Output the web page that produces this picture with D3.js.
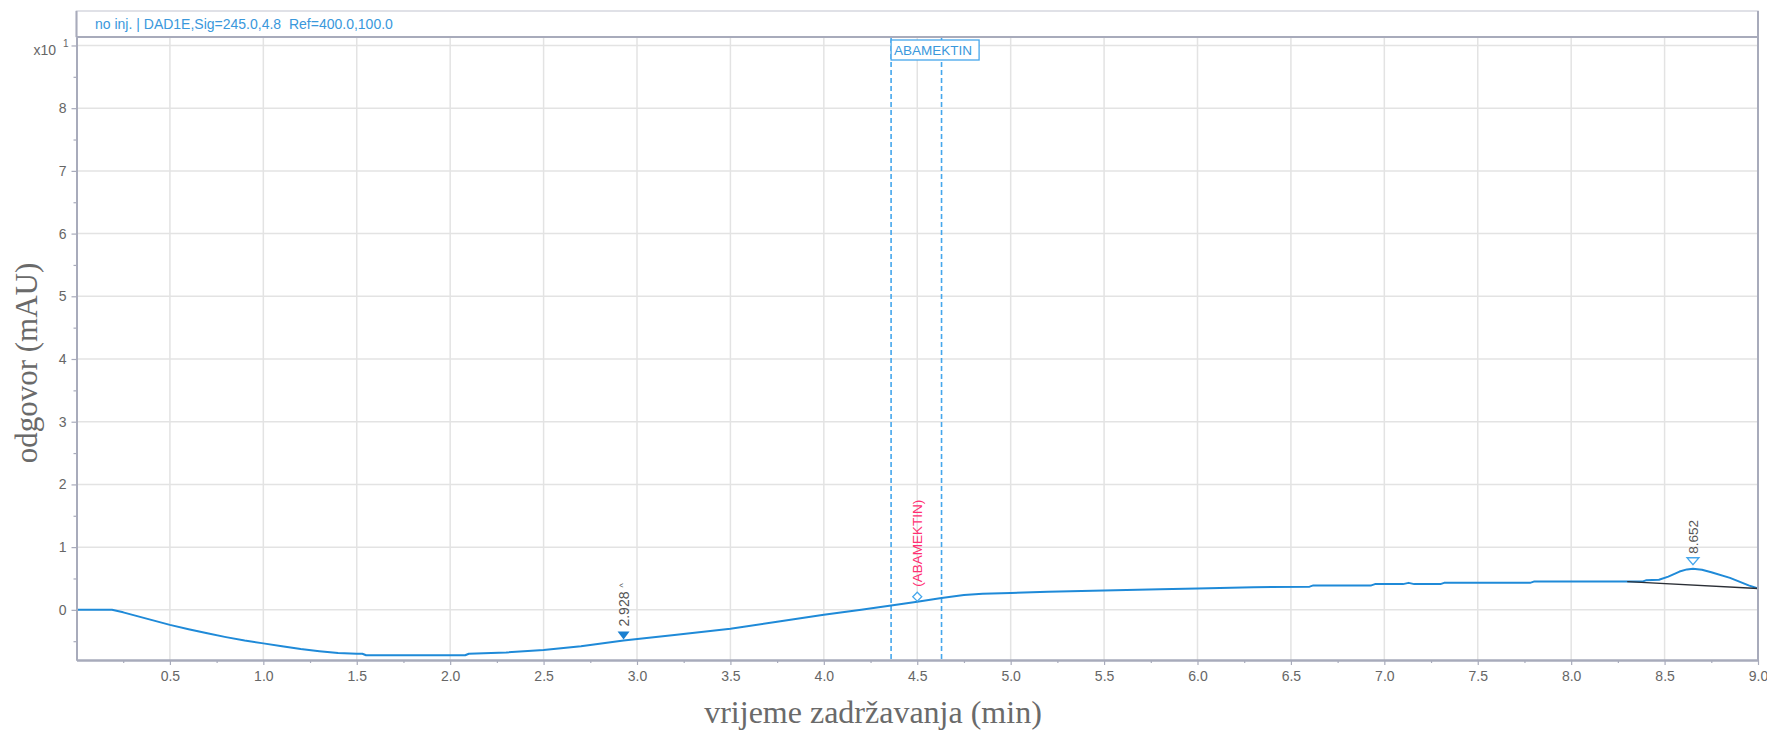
<!DOCTYPE html>
<html>
<head>
<meta charset="utf-8">
<script src="https://cdn.jsdelivr.net/npm/d3@7"></script>
<style>
  html, body { margin: 0; padding: 0; background: #fff; }
  svg { display: block; font-family: "Liberation Sans", Arial, sans-serif; }
</style>
</head>
<body>
<svg id="chart" width="1767" height="736"></svg>
<script>
// Retention time (min) of the DAD1E trace
const times = [0, 0.19, 0.25, 0.3, 0.4, 0.5, 0.6, 0.7, 0.8, 0.9, 1.0, 1.1, 1.2, 1.3, 1.4, 1.5, 1.53, 1.55, 2.08, 2.1, 2.3, 2.5, 2.7, 2.928, 3.2, 3.5, 3.75, 4.0, 4.2, 4.36, 4.5, 4.63, 4.75, 4.85, 5.0, 5.2, 5.5, 5.8, 6.0, 6.3, 6.6, 6.62, 6.93, 6.95, 7.1, 7.13, 7.16, 7.3, 7.32, 7.78, 7.8, 8.38, 8.4, 8.47, 8.52, 8.58, 8.62, 8.652, 8.7, 8.75, 8.85, 8.95, 9.0];
// Detector response in units of 10 mAU
const response = [0, 0, -0.04, -0.08, -0.16, -0.24, -0.31, -0.375, -0.435, -0.49, -0.535, -0.58, -0.625, -0.66, -0.69, -0.70, -0.70, -0.725, -0.725, -0.70, -0.68, -0.64, -0.58, -0.49, -0.40, -0.30, -0.19, -0.08, 0.0, 0.07, 0.13, 0.19, 0.235, 0.255, 0.27, 0.29, 0.31, 0.33, 0.34, 0.36, 0.37, 0.39, 0.39, 0.41, 0.41, 0.43, 0.41, 0.41, 0.43, 0.43, 0.45, 0.45, 0.47, 0.48, 0.53, 0.61, 0.645, 0.655, 0.64, 0.60, 0.51, 0.39, 0.34];

// Integration baseline under the last peak
const baselineTimes = [8.30, 9.0];
const baselineValues = [0.45, 0.34];

// Detected peaks
const peakTimes = [2.928, 8.652];
const peakValues = [-0.49, 0.655];
const peakLabels = ["2.928", "8.652"];

// Expected compound window
const compoundName = "ABAMEKTIN";
const compoundWindow = [4.36, 4.63];
const compoundTime = 4.5;
const compoundValue = 0.13;

// Axis ticks
const xMajorTicks = d3.range(1, 19).map(i => i * 0.5);
const xMinorTicks = d3.range(0, 18).map(i => i * 0.5 + 0.25);
const yMajorTicks = d3.range(0, 10);
const yMinorTicks = d3.range(-1, 9).map(i => i + 0.5);

const headerText = "no inj. | DAD1E,Sig=245.0,4.8\u00a0\u00a0Ref=400.0,100.0";
const xTitle = "vrijeme zadržavanja (min)";
const yTitle = "odgovor (mAU)";

const svg = d3.select("#chart");
const plot = { left: 76.5, right: 1758, top: 37, bottom: 660 };

const x = d3.scaleLinear().domain([0, 9]).range([plot.left, plot.right]);
const y = d3.scaleLinear().domain([-0.8, 9.135]).range([plot.bottom, plot.top]);

const sans = "'Liberation Sans', Arial, sans-serif";
const serif = "'Liberation Serif', 'Times New Roman', serif";
const axisColor = "#a8abbb";
const gridColor = "#e3e3e3";
const labelColor = "#666";
const traceColor = "#1f8ad8";
const markColor = "#45a7ec";

// Header strip
svg.append("rect")
  .attr("x", plot.left).attr("y", 11)
  .attr("width", plot.right - plot.left).attr("height", plot.top - 11)
  .attr("fill", "#fff").attr("stroke", "#d6d8e0").attr("stroke-width", 1.5);
svg.append("text")
  .attr("x", 95).attr("y", 29)
  .attr("fill", "#3a98dc").attr("font-size", 14)
  .text(headerText);

// Grid
const grid = svg.append("g");
grid.selectAll("line.h").data(yMajorTicks).join("line")
  .attr("x1", plot.left).attr("x2", plot.right)
  .attr("y1", d => y(d)).attr("y2", d => y(d))
  .attr("stroke", gridColor).attr("stroke-width", 1.5);
grid.selectAll("line.v").data(xMajorTicks.filter(d => d < 9)).join("line")
  .attr("x1", d => x(d)).attr("x2", d => x(d))
  .attr("y1", plot.top).attr("y2", plot.bottom)
  .attr("stroke", gridColor).attr("stroke-width", 1.5);

// Compound retention window
const win = svg.append("g");
win.selectAll("line").data(compoundWindow).join("line")
  .attr("x1", d => x(d)).attr("x2", d => x(d))
  .attr("y1", plot.top + 1).attr("y2", plot.bottom)
  .attr("stroke", markColor).attr("stroke-width", 1.6)
  .attr("stroke-dasharray", "5,3");
win.append("rect")
  .attr("x", x(compoundWindow[0])).attr("y", 40)
  .attr("width", 88).attr("height", 20)
  .attr("fill", "#fff").attr("stroke", markColor).attr("stroke-width", 1.3);
win.append("text")
  .attr("x", x(compoundWindow[0]) + 3).attr("y", 55)
  .attr("fill", "#3a98dc").attr("font-size", 13.5)
  .text(compoundName);

// Trace
const line = d3.line().x((d, i) => x(times[i])).y(d => y(d));
svg.append("path")
  .attr("d", line(response))
  .attr("fill", "none").attr("stroke", traceColor).attr("stroke-width", 2)
  .attr("stroke-linejoin", "round");

// Integration baseline
svg.append("path")
  .attr("d", d3.line().x((d, i) => x(baselineTimes[i])).y(d => y(d))(baselineValues))
  .attr("fill", "none").attr("stroke", "#2b2f36").attr("stroke-width", 1.3);

// Peak 1: filled marker
const p1x = x(peakTimes[0]), p1y = y(peakValues[0]);
svg.append("path")
  .attr("d", `M${p1x - 6},${p1y - 9}L${p1x + 6},${p1y - 9}L${p1x},${p1y - 1}Z`)
  .attr("fill", "#1a7fd0");
svg.append("text")
  .attr("transform", `translate(${p1x + 5},${p1y - 14}) rotate(-90)`)
  .attr("fill", "#555").attr("font-size", 14)
  .text(peakLabels[0])
  .append("tspan").attr("dx", 4).attr("dy", -3).attr("font-size", 9).text("^");

// Peak 2: hollow marker
const p2x = x(peakTimes[1]), p2y = y(peakValues[1]);
svg.append("path")
  .attr("d", `M${p2x - 6},${p2y - 11}L${p2x + 6},${p2y - 11}L${p2x},${p2y - 4}Z`)
  .attr("fill", "#fff").attr("stroke", markColor).attr("stroke-width", 1.3);
svg.append("text")
  .attr("transform", `translate(${p2x + 5},${p2y - 15}) rotate(-90)`)
  .attr("fill", "#555").attr("font-size", 13.5)
  .text(peakLabels[1]);

// Expected compound position
const cx = x(compoundTime), cy = y(compoundValue) - 5;
svg.append("path")
  .attr("d", `M${cx},${cy - 4.5}L${cx + 4.5},${cy}L${cx},${cy + 4.5}L${cx - 4.5},${cy}Z`)
  .attr("fill", "#fff").attr("stroke", markColor).attr("stroke-width", 1.3);
svg.append("text")
  .attr("transform", `translate(${cx + 4.5},${cy - 10}) rotate(-90)`)
  .attr("fill", "#ff2f72").attr("font-size", 13.5)
  .text(`(${compoundName})`);

// Axes
function styleAxis(g) {
  g.attr("font-family", sans).attr("font-size", 14);
  g.select(".domain").attr("stroke", axisColor).attr("stroke-width", 2);
  g.selectAll(".tick line").attr("stroke", axisColor).attr("stroke-width", 1.2);
  g.selectAll(".tick text").attr("fill", labelColor);
}

svg.append("g").attr("transform", `translate(0,${plot.bottom})`)
  .call(d3.axisBottom(x).tickValues(xMinorTicks).tickSize(3).tickSizeOuter(0).tickFormat(""))
  .call(styleAxis);
svg.append("g").attr("transform", `translate(0,${plot.bottom})`)
  .call(d3.axisBottom(x).tickValues(xMajorTicks).tickSize(5).tickPadding(6).tickSizeOuter(0)
    .tickFormat(d3.format(".1f")))
  .call(styleAxis);

svg.append("g").attr("transform", `translate(${plot.left},0)`)
  .call(d3.axisLeft(y).tickValues(yMinorTicks).tickSize(3).tickSizeOuter(0).tickFormat(""))
  .call(styleAxis);
svg.append("g").attr("transform", `translate(${plot.left},0)`)
  .call(d3.axisLeft(y).tickValues(yMajorTicks).tickSize(5).tickPadding(5).tickSizeOuter(0)
    .tickFormat(d => d === 9 ? "" : d))
  .call(styleAxis);

// Right frame edge and header divider
svg.append("line")
  .attr("x1", plot.right).attr("x2", plot.right).attr("y1", 11).attr("y2", plot.bottom)
  .attr("stroke", axisColor).attr("stroke-width", 2);
svg.append("line")
  .attr("x1", plot.left).attr("x2", plot.right).attr("y1", plot.top).attr("y2", plot.top)
  .attr("stroke", axisColor).attr("stroke-width", 2);
svg.append("line")
  .attr("x1", plot.left).attr("x2", plot.left).attr("y1", 11).attr("y2", plot.top)
  .attr("stroke", axisColor).attr("stroke-width", 2);

// Scale multiplier
svg.append("text").attr("x", 56).attr("y", 55)
  .attr("text-anchor", "end").attr("fill", labelColor).attr("font-size", 14).text("x10");
svg.append("text").attr("x", 63).attr("y", 47)
  .attr("fill", labelColor).attr("font-size", 10).text("1");

// Axis titles
svg.append("text")
  .attr("x", 873).attr("y", 723)
  .attr("text-anchor", "middle")
  .style("font-family", serif)
  .attr("font-size", 32).attr("fill", "#6a6a6a")
  .text(xTitle);
svg.append("text")
  .attr("transform", "translate(37,363) rotate(-90)")
  .attr("text-anchor", "middle")
  .style("font-family", serif)
  .attr("font-size", 31).attr("fill", "#6a6a6a")
  .text(yTitle);
</script>
</body>
</html>
